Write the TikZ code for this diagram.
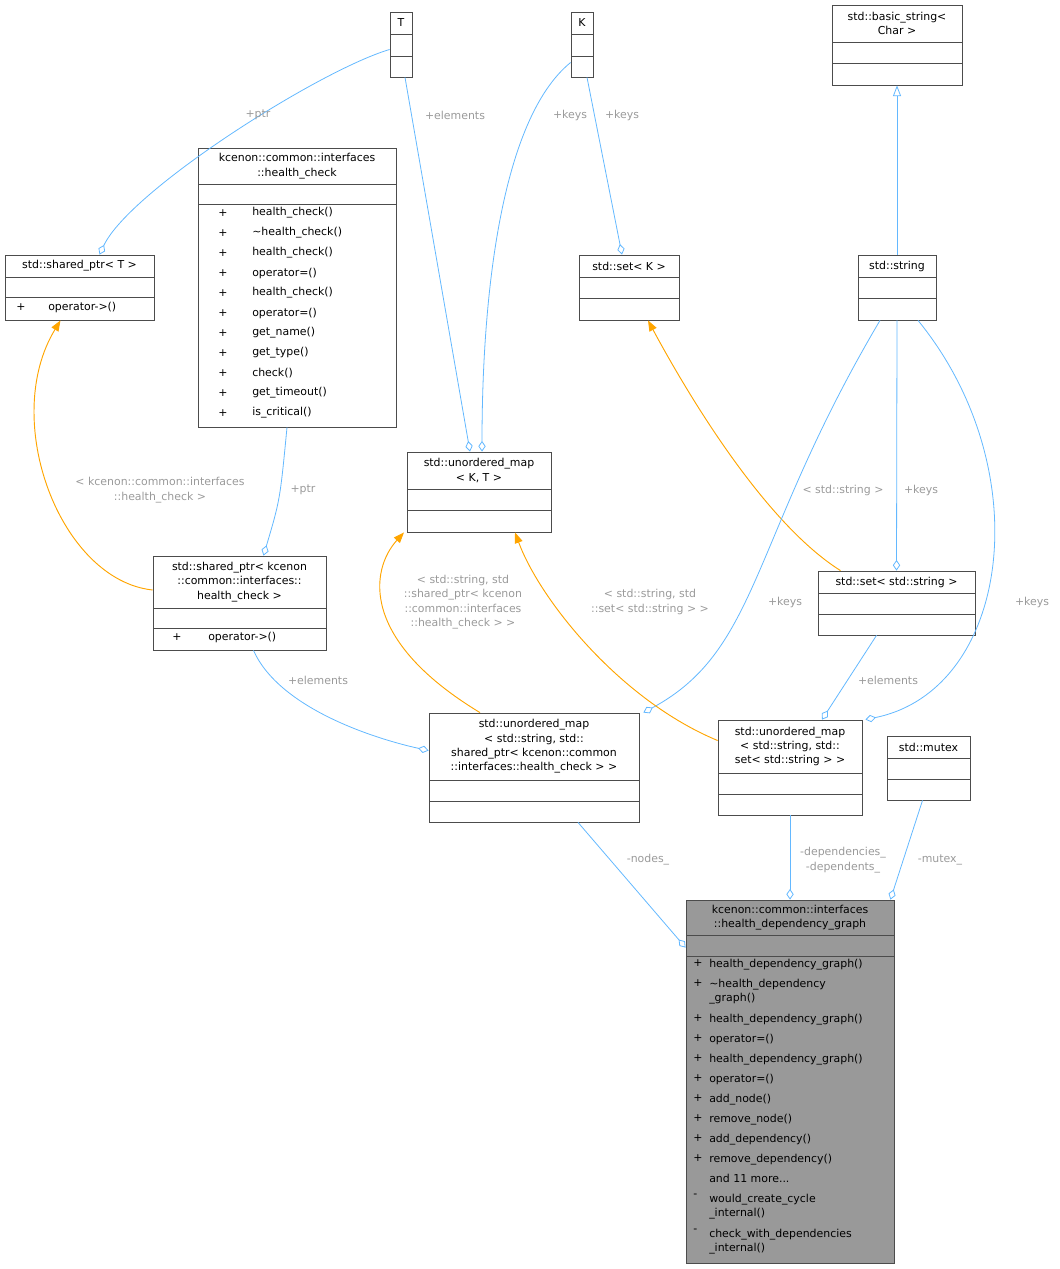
\documentclass[tikz,border=0pt]{standalone}
\usepackage{fontspec}
\setmainfont{DejaVu Sans}
\usetikzlibrary{arrows.meta,calc}
\definecolor{edgeblue}{HTML}{63B8FF}
\definecolor{edgeorange}{HTML}{FFA500}
\definecolor{lblgray}{HTML}{9A9A9A}
\definecolor{mainfill}{HTML}{999999}
\newcommand\moredots{.\kern0pt.\kern0pt.}
\tikzset{
  umlbox/.style={rectangle, draw=black!70, line width=0.6pt, inner sep=0pt},
  txt/.style={font=\fontsize{8.2}{10.8}\selectfont, inner sep=0pt, align=center},
  member/.style={txt, anchor=west, align=left},
  lbl/.style={font=\fontsize{8.2}{10.8}\selectfont, text=lblgray, inner sep=0pt, align=center},
  uses/.style={draw=edgeblue, line width=0.6pt, -{Diamond[open, fill=white, length=8pt, width=5.5pt]}},
  inst/.style={draw=edgeorange, line width=0.7pt, -{Triangle[length=8pt, width=6pt, fill=edgeorange]}},
  inherit/.style={draw=edgeblue, line width=0.6pt, -{Triangle[open, fill=white, length=8pt, width=6pt]}}
}
% #1 fill, #2 name, #3 x1, #4 y1, #5 x2, #6 y2, #7 divider 1, #8 divider 2, #9 title
\newcommand\umlclass[9][white]{%
  \node[umlbox, fill=#1, minimum width={(#5-#3)*0.75pt}, minimum height={(#6-#4)*0.75pt}] (#2) at ({(#3+#5)/2},{(#4+#6)/2}) {};
  \node[txt] (#2-title) at ({(#3+#5)/2},{(#4+#7)/2}) {#9};
  \draw[draw=black!70, line width=0.6pt] (#3,#7) -- (#5,#7) (#3,#8) -- (#5,#8);
}
\begin{document}
\begin{tikzpicture}[x=0.75pt, y=-0.75pt]
	\useasboundingbox (0,0) rectangle (1059,1269);

	% classes
	\umlclass{T}{390}{12}{412}{77}{34}{56}{T}
	\umlclass{K}{571}{12}{593}{77}{34}{56}{K}
	\umlclass{bstr}{832}{5}{962}{85}{42}{63}{std::basic\_string<\\Char >}
	\umlclass{spT}{5}{255}{154}{320}{277}{297}{std::shared\_ptr< T >}
	\umlclass{hc}{198}{148}{396}{427}{184}{204}{kcenon::common::interfaces\\::health\_check}
	\umlclass{setK}{579}{255}{679}{320}{277}{298}{std::set< K >}
	\umlclass{str}{858}{255}{936}{320}{277}{298}{std::string}
	\umlclass{ukt}{407}{452}{551}{532}{489}{510}{std::unordered\_map\\< K, T >}
	\umlclass{sphc}{153}{556}{326}{650}{608}{628}{std::shared\_ptr< kcenon\\::common::interfaces::\\health\_check >}
	\umlclass{setS}{818}{571}{975}{635}{593}{614}{std::set< std::string >}
	\umlclass{umN}{429}{713}{639}{822}{780}{801}{std::unordered\_map\\< std::string, std::\\shared\_ptr< kcenon::common\\::interfaces::health\_check > >}
	\umlclass{umD}{718}{720}{862}{815}{773}{794}{std::unordered\_map\\< std::string, std::\\set< std::string > >}
	\umlclass{mtx}{887}{736}{970}{800}{758}{779}{std::mutex}
	\umlclass[mainfill]{main}{686}{900}{894}{1263}{935}{956}{kcenon::common::interfaces\\::health\_dependency\_graph}

	% members
	\node[member] (spT-s) at (16,307) {+};
	\node[member] (spT-m) at (48,307) {operator->()};
	\node[member] (sphc-s) at (172,637) {+};
	\node[member] (sphc-m) at (208,637) {operator->()};
	\foreach \m [count=\i] in {health\_check(), \textasciitilde health\_check(), health\_check(), operator=(), health\_check(), operator=(), get\_name(), get\_type(), check(), get\_timeout(), is\_critical()} {
		\node[member] (hc-s\i) at (218,{193+20*\i}) {+};
		\node[member] (hc-m\i) at (252,{193+20*\i}) {\m};
	}
	\foreach \y/\s/\m [count=\i] in {966/+/health\_dependency\_graph(), 986/+/{\textasciitilde health\_dependency\\\_graph()}, 1021/+/health\_dependency\_graph(), 1041/+/operator=(), 1061/+/health\_dependency\_graph(), 1081/+/operator=(), 1101/+/add\_node(), 1121/+/remove\_node(), 1141/+/add\_dependency(), 1161/+/remove\_dependency(), 1181/{}/{and 11 more\moredots}, 1201/-/{would\_create\_cycle\\\_internal()}, 1236/-/{check\_with\_dependencies\\\_internal()}} {
		\node[member, anchor=north west] (main-s\i) at (693,\y-7) {\s};
		\node[member, anchor=north west] (main-m\i) at (709,\y-7) {\m};
	}

	% connectors
	\draw[uses] ($(T.west)+(0,5)$) .. controls (320,70) and (130,190) .. ($(spT.north)+(20,0)$);
	\draw[uses] ($(T.south)+(4,0)$) -- ($(ukt.north)+(-9,0)$);
	\draw[uses] ($(K.west)+(0,18)$) .. controls (500,120) and (482,300) .. ($(ukt.north)+(3,0)$);
	\draw[uses] ($(K.south)+(5,0)$) -- ($(setK.north)+(-7,0)$);
	\draw[inherit] (str.north) -- (bstr.south);
	\draw[uses] ($(hc.south)+(-10,0)$) .. controls (280,500) .. ($(sphc.north)+(24,0)$);
	\draw[inst] ($(sphc.west)+(0,-13)$) .. controls (60,580) and (0,420) .. ($(spT.south)+(-19,0)$);
	\draw[inst] ($(setS.north)+(-56,0)$) .. controls (760,520) and (680,380) .. ($(setK.south)+(19,0)$);
	\draw[uses] (str.south) -- (setS.north);
	\draw[uses] ($(str.south)+(-17,0)$) .. controls (750,540) and (760,650) .. ($(umN.north east)+(4,0)$);
	\draw[uses] ($(str.south)+(21,0)$) .. controls (1040,470) and (1010,690) .. ($(umD.north east)+(3,0)$);
	\draw[inst] ($(umN.north)+(-54,0)$) .. controls (360,640) and (370,570) .. ($(ukt.south)+(-75,0)$);
	\draw[inst] ($(umD.west)+(0,-27)$) .. controls (620,700) and (540,600) .. ($(ukt.south)+(36,0)$);
	\draw[uses] ($(sphc.south)+(14,0)$) .. controls (280,710) and (380,740) .. ($(umN.west)+(0,-17)$);
	\draw[uses] ($(setS.south)+(-20,0)$) -- ($(umD.north)+(32,0)$);
	\draw[uses] ($(umN.south)+(44,0)$) -- ($(main.north west)+(0,48)$);
	\draw[uses] (umD.south) -- (main.north);
	\draw[uses] ($(mtx.south)+(-6,0)$) -- ($(main.north east)+(-4,0)$);

	% connector labels
	\node[lbl] (lbl-ptr1) at (258,115) {+ptr};
	\node[lbl] (lbl-elem1) at (455,115) {+elements};
	\node[lbl] (lbl-keys1) at (570,115) {+keys};
	\node[lbl] (lbl-keys2) at (622,115) {+keys};
	\node[lbl] (lbl-ptr2) at (303,490) {+ptr};
	\node[lbl] (lbl-hc) at (160,490) {< kcenon::common::interfaces\\::health\_check >};
	\node[lbl] (lbl-str) at (843,490) {< std::string >};
	\node[lbl] (lbl-keys3) at (921,490) {+keys};
	\node[lbl] (lbl-keys4) at (785,602) {+keys};
	\node[lbl] (lbl-keys5) at (1032,602) {+keys};
	\node[lbl] (lbl-umN) at (463,602) {< std::string, std\\::shared\_ptr< kcenon\\::common::interfaces\\::health\_check > >};
	\node[lbl] (lbl-umD) at (650,602) {< std::string, std\\::set< std::string > >};
	\node[lbl] (lbl-elem2) at (318,680) {+elements};
	\node[lbl] (lbl-elem3) at (888,680) {+elements};
	\node[lbl] (lbl-nodes) at (648,860) {-nodes\_};
	\node[lbl] (lbl-deps) at (843,860) {-dependencies\_\\-dependents\_};
	\node[lbl] (lbl-mutex) at (940,860) {-mutex\_};
\end{tikzpicture}
\end{document}
